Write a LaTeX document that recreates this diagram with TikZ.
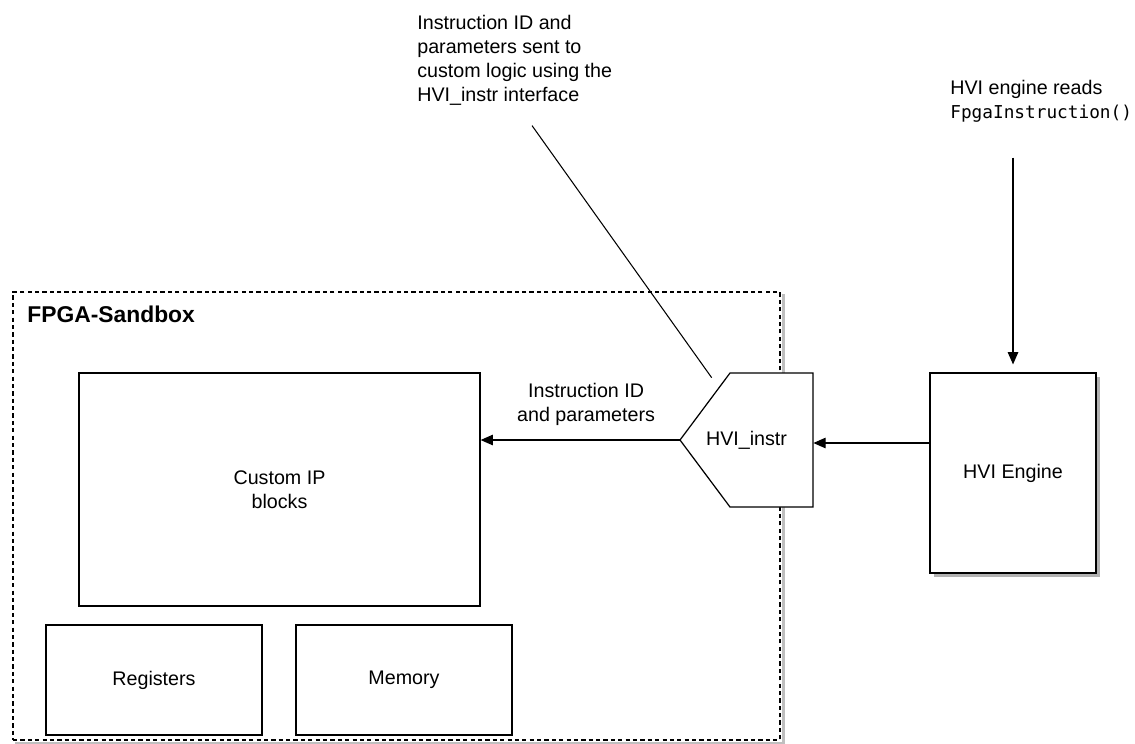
\documentclass[tikz,border=0pt]{standalone}
\usepackage{fontspec}
\setmainfont{Liberation Sans}
\setmonofont{DejaVu Sans Mono}
\usepackage{tikz}
\usetikzlibrary{arrows.meta,positioning,calc,shadows}
\newcommand{\diafont}{\fontsize{11.2}{13.6}\selectfont}

\begin{document}
\begin{tikzpicture}[
  font=\diafont,
  sandbox/.style={draw, dash pattern=on 2.4pt off 1.8pt, line width=0.7pt, minimum width=15.34cm, minimum height=8.96cm, inner sep=0pt},
  sbshadow/.style={draw=black!25, line width=1.4pt},
  block/.style={draw, line width=0.7pt, align=center, inner sep=0pt},
  engine/.style={block, fill=white, drop shadow={shadow xshift=0.08cm, shadow yshift=-0.08cm, fill=black!30, opacity=1}},
  note/.style={align=left, inner sep=0pt, anchor=north west},
  flow/.style={-{Triangle[length=7pt,width=6pt]}, line width=0.6pt},
  lab/.style={align=center, inner sep=0pt}
]
\useasboundingbox (0,0) rectangle (22.7,-14.86);

\node[sandbox] (sandbox) at (7.93,-10.32) {};
\draw[sbshadow] ([shift={(0.06,-0.06)}]sandbox.north east) -- ([shift={(0.06,-0.06)}]sandbox.south east) -- ([shift={(0.06,-0.06)}]sandbox.south west);
\node[font=\fontsize{13}{15}\selectfont\bfseries, anchor=north west, inner sep=0pt] (sbtitle) at (0.54,-6.12) {FPGA-Sandbox};

\node[block, minimum width=8.02cm, minimum height=4.66cm] (customip) at (5.59,-9.79) {Custom IP\\blocks};
\node[block, minimum width=4.32cm, minimum height=2.2cm] (registers) at (3.08,-13.6) {Registers};
\node[block, minimum width=4.32cm, minimum height=2.2cm] (memory) at (8.08,-13.6) {Memory};

\coordinate (instrc) at (14.93,-8.8);
\draw[line width=0.7pt, fill=white] ($(instrc)+(-1.33,0)$) -- ($(instrc)+(-0.33,1.34)$) -- ($(instrc)+(1.33,1.34)$) -- ($(instrc)+(1.33,-1.34)$) -- ($(instrc)+(-0.33,-1.34)$) -- cycle;
\node[minimum width=2.66cm, minimum height=2.68cm, inner sep=0pt] (instr) at (instrc) {HVI\_instr};

\node[engine, minimum width=3.32cm, minimum height=4cm] (engine) at (20.26,-9.46) {HVI Engine};

\node[note] (instrnote) at (8.34,-0.3) {Instruction ID and\\parameters sent to\\custom logic using the\\HVI\_instr interface};
\node[note] (readnote) at (19.0,-1.6) {HVI engine reads\\{\ttfamily\fontsize{10.1}{13.6}\selectfont FpgaInstruction()}};

\draw[line width=0.6pt] ([shift={(2.3,-0.4)}]instrnote.south west) -- ([shift={(0.64,-0.1)}]instr.north west);
\draw[flow] ([yshift=-0.7cm]readnote.south -| engine.north) -- ([yshift=0.16cm]engine.north);
\draw[flow] ([yshift=-0.06cm]engine.west |- instr.east) -- ([yshift=-0.06cm]instr.east);
\draw[flow] (instr.west) -- node[lab, above=8pt, pos=0.47] (paramlab) {Instruction ID\\and parameters} (instr.west -| customip.east);
\end{tikzpicture}
\end{document}
